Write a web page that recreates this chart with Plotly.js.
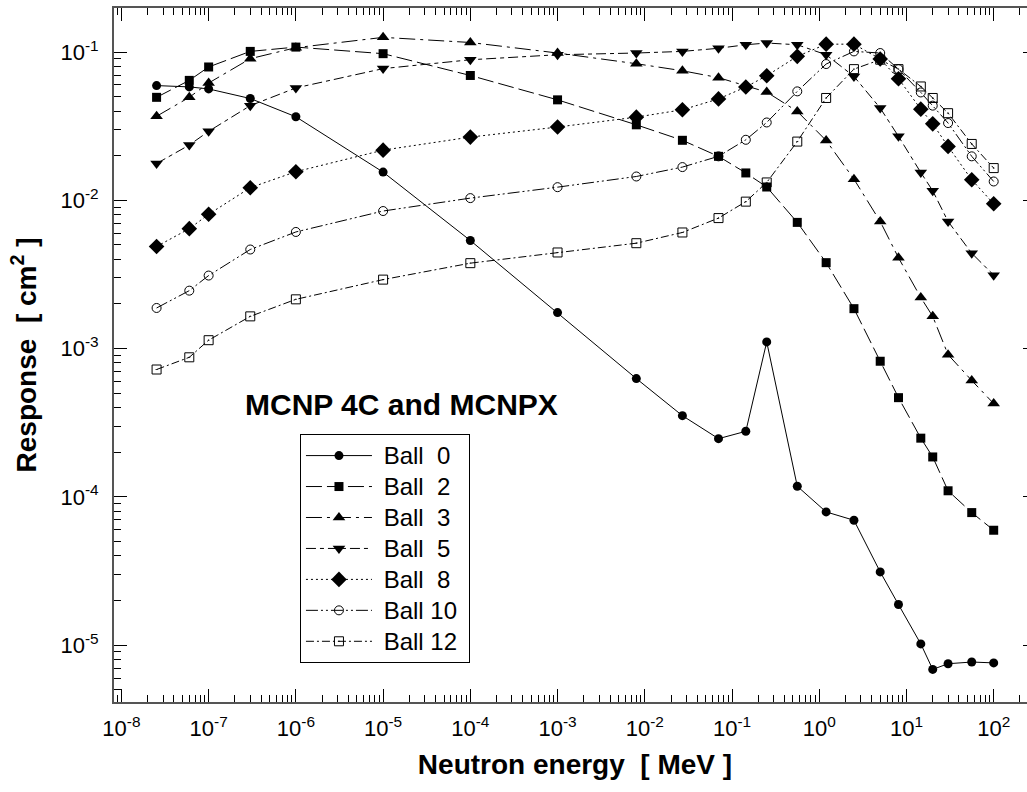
<!DOCTYPE html>
<html>
<head>
<meta charset="utf-8">
<script src="https://cdn.plot.ly/plotly-3.0.1.min.js"></script>
<style>
html,body{margin:0;padding:0;overflow:hidden;background:#fff;}
#chart{width:1040px;height:792px;}
</style>
</head>
<body>
<div id="chart"></div>
<script>
// Neutron energies [MeV]
const energy = [2.53e-8, 6e-8, 1e-7, 3e-7, 1e-6, 1e-5, 1e-4, 1e-3, 8e-3, 2.7e-2, 7e-2, 0.144, 0.25, 0.56, 1.2, 2.5, 5.0, 8.1, 14.6, 20, 30, 56, 100];

const seriesNames = ["Ball  0", "Ball  2", "Ball  3", "Ball  5", "Ball  8", "Ball 10", "Ball 12"];

const ball0  = [0.0594, 0.0582, 0.0564, 0.0486, 0.0366, 0.0155, 0.00536, 1.75e-3, 6.28e-4, 3.53e-4, 2.47e-4, 2.77e-4, 1.11e-3, 1.18e-4, 7.92e-5, 6.96e-5, 3.12e-5, 1.88e-5, 1.02e-5, 6.87e-6, 7.5e-6, 7.7e-6, 7.6e-6];
const ball2  = [0.0495, 0.0644, 0.0793, 0.101, 0.108, 0.0975, 0.0695, 0.0476, 0.0323, 0.0254, 0.0198, 0.0153, 0.0123, 0.0071, 0.0038, 1.86e-3, 8.22e-4, 4.67e-4, 2.49e-4, 1.86e-4, 1.10e-4, 7.84e-5, 5.96e-5];
const ball3  = [0.0369, 0.0495, 0.0618, 0.0902, 0.107, 0.1256, 0.116, 0.0985, 0.0834, 0.0748, 0.0672, 0.059, 0.0537, 0.0398, 0.0253, 0.0139, 0.0072, 0.0041, 2.21e-3, 1.65e-3, 9.1e-4, 6.1e-4, 4.26e-4];
const ball5  = [0.0177, 0.0236, 0.0292, 0.0435, 0.0573, 0.0773, 0.0887, 0.0959, 0.0985, 0.101, 0.106, 0.112, 0.115, 0.112, 0.0959, 0.0685, 0.0419, 0.027, 0.0154, 0.0116, 0.0072, 0.0044, 0.00313];
const ball8  = [0.00488, 0.00644, 0.00805, 0.01217, 0.0156, 0.0218, 0.0267, 0.0312, 0.0364, 0.0408, 0.0483, 0.0581, 0.0692, 0.0935, 0.113, 0.113, 0.0897, 0.0661, 0.0412, 0.0328, 0.0231, 0.01376, 0.00948];
const ball10 = [0.00188, 0.00246, 0.00311, 0.00466, 0.00612, 0.00847, 0.01035, 0.01227, 0.01448, 0.01676, 0.0198, 0.0256, 0.0335, 0.0543, 0.083, 0.101, 0.0985, 0.0767, 0.0534, 0.0435, 0.0332, 0.0198, 0.0134];
const ball12 = [7.23e-4, 8.74e-4, 1.14e-3, 1.65e-3, 2.15e-3, 2.92e-3, 3.77e-3, 4.45e-3, 5.14e-3, 6.07e-3, 7.59e-3, 9.8e-3, 0.0132, 0.0249, 0.049, 0.0767, 0.0888, 0.0767, 0.0586, 0.049, 0.0387, 0.024, 0.0165];

// Tick positions and labels
const xTickVals = [1e-8, 1e-7, 1e-6, 1e-5, 1e-4, 1e-3, 1e-2, 1e-1, 1e0, 1e1, 1e2];
const xTickText = ["10<sup>-8</sup>", "10<sup>-7</sup>", "10<sup>-6</sup>", "10<sup>-5</sup>", "10<sup>-4</sup>", "10<sup>-3</sup>", "10<sup>-2</sup>", "10<sup>-1</sup>", "10<sup>0</sup>", "10<sup>1</sup>", "10<sup>2</sup>"];
const yTickVals = [1e-5, 1e-4, 1e-3, 1e-2, 1e-1];
const yTickText = ["10<sup>-5</sup>", "10<sup>-4</sup>", "10<sup>-3</sup>", "10<sup>-2</sup>", "10<sup>-1</sup>"];

const values = [ball0, ball2, ball3, ball5, ball8, ball10, ball12];

const styles = [
  {dash: "solid",                          symbol: "circle",          size: 9,  open: false},
  {dash: "16px,5px",                       symbol: "square",          size: 9,  open: false},
  {dash: "16px,5px,3px,5px",               symbol: "triangle-up",     size: 11, open: false},
  {dash: "10px,4px,4px,4px",               symbol: "triangle-down",   size: 11, open: false},
  {dash: "2px,3px",                        symbol: "diamond",         size: 12, open: false},
  {dash: "12px,3px,2px,3px,2px,3px",       symbol: "circle-open",     size: 9,  open: true},
  {dash: "8px,3px,2px,3px",                symbol: "square-open-dot", size: 9,  open: true}
];

const traces = values.map((v, i) => ({
  x: energy,
  y: v,
  name: '<span style="font-size:24px">\u00a0' + seriesNames[i] + '\u00a0</span>',
  type: "scatter",
  mode: "lines+markers",
  line: {color: "#000", width: 1, dash: styles[i].dash},
  marker: {
    symbol: styles[i].symbol,
    size: styles[i].size,
    color: "#000",
    line: {color: "#000", width: styles[i].open ? 1 : 0}
  }
}));

const FONT = "Liberation Sans, Arial, Helvetica, sans-serif";

const axisCommon = {
  type: "log",
  showline: true,
  linecolor: "#555",
  linewidth: 2,
  mirror: "allticks",
  ticks: "inside",
  ticklen: 13,
  tickwidth: 1,
  tickcolor: "#000",
  tickmode: "array",
  showgrid: false,
  zeroline: false,
  tickfont: {family: FONT, size: 22, color: "#000"},
  minor: {ticks: "inside", ticklen: 7, tickwidth: 1, tickcolor: "#000", dtick: "D1", showgrid: false}
};

const layout = {
  width: 1040,
  height: 792,
  margin: {l: 114, r: 4, t: 8, b: 90},
  paper_bgcolor: "#fff",
  plot_bgcolor: "#fff",
  font: {family: FONT, color: "#000"},
  showlegend: true,
  xaxis: Object.assign({}, axisCommon, {
    range: [-8.085, 2.485],
    tickvals: xTickVals,
    ticktext: xTickText,
    ticklabelstandoff: 6,
    title: {text: "<b>Neutron energy  [ MeV ]</b>", font: {family: FONT, size: 28, color: "#000"}, standoff: 14}
  }),
  yaxis: Object.assign({}, axisCommon, {
    range: [-5.383, -0.703],
    tickvals: yTickVals,
    ticktext: yTickText,
    ticklabelstandoff: 9,
    title: {text: "<b>Response  [ cm<sup>2</sup> ]</b>", font: {family: FONT, size: 28, color: "#000"}, standoff: 16}
  }),
  legend: {
    x: 0.2017, y: 0.386, xanchor: "left", yanchor: "top",
    bordercolor: "#000", borderwidth: 1, bgcolor: "#fff",
    font: {family: FONT, size: 21.5, color: "#000"},
    itemwidth: 66,
    tracegroupgap: 0
  },
  annotations: [{
    text: "<b>MCNP 4C and MCNPX</b>",
    xref: "paper", yref: "paper",
    x: 0.3113, y: 0.428,
    xanchor: "center", yanchor: "middle",
    showarrow: false,
    font: {family: FONT, size: 30, color: "#000"}
  }]
};

Plotly.newPlot("chart", traces, layout, {staticPlot: true, displayModeBar: false});
</script>
</body>
</html>
